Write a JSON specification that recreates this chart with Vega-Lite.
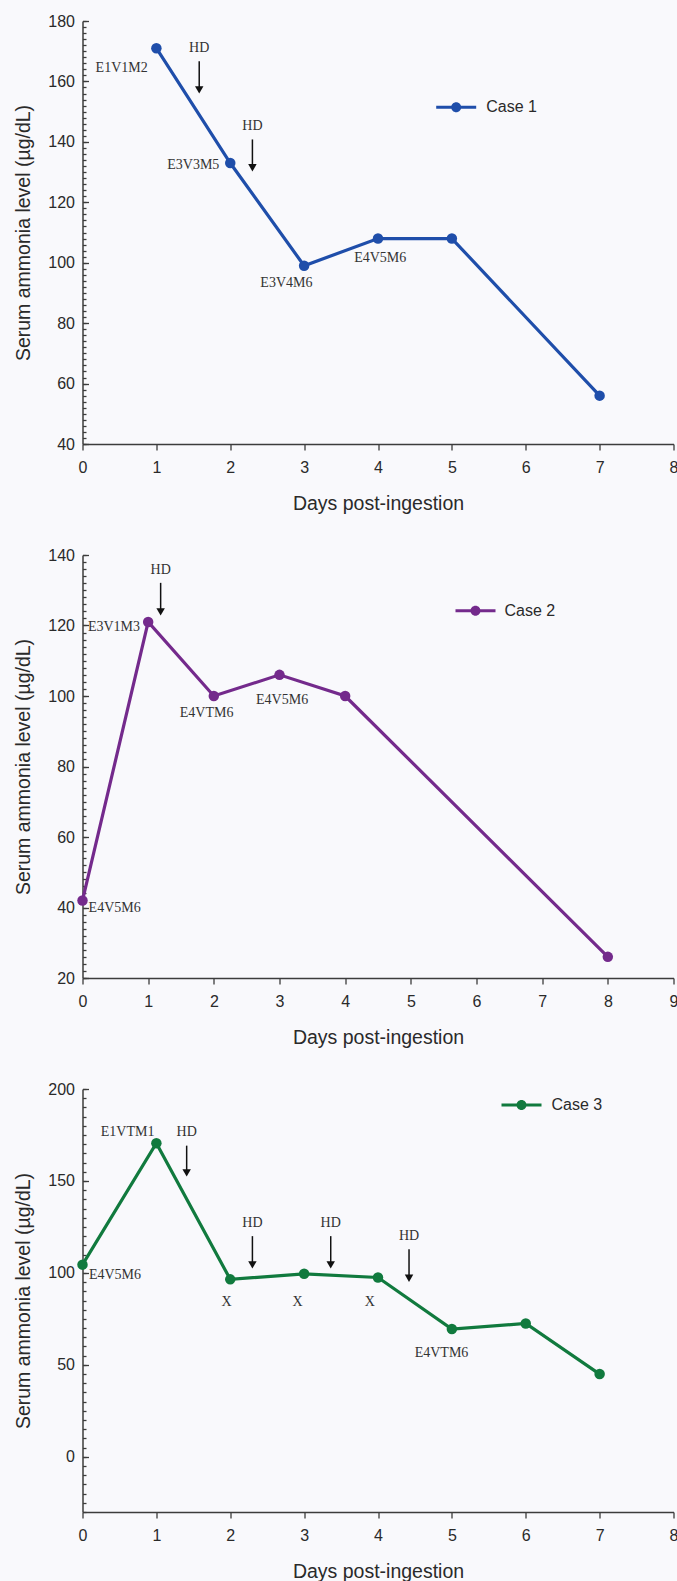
{
  "$schema": "https://vega.github.io/schema/vega-lite/v6.json",
  "background": "#f9f9fc",
  "autosize": {"type": "pad"},
  "padding": {"left": 13.5, "top": 13, "right": 0, "bottom": 0},
  "spacing": 111,
  "bounds": "flush",
  "resolve": {"scale": {"color": "independent"}, "legend": {"color": "independent"}},
  "datasets": {
    "c1": [
      {"day": 1, "ammonia": 171, "case": "Case 1"},
      {"day": 2, "ammonia": 133, "case": "Case 1"},
      {"day": 3, "ammonia": 99, "case": "Case 1"},
      {"day": 4, "ammonia": 108, "case": "Case 1"},
      {"day": 5, "ammonia": 108, "case": "Case 1"},
      {"day": 7, "ammonia": 56, "case": "Case 1"}
    ],
    "a1": [
      {"day": 0.53, "ammonia": 164.3, "label": "E1V1M2"},
      {"day": 1.58, "ammonia": 171, "label": "HD"},
      {"day": 2.3, "ammonia": 145.1, "label": "HD"},
      {"day": 1.5, "ammonia": 132.2, "label": "E3V3M5"},
      {"day": 2.76, "ammonia": 93.2, "label": "E3V4M6"},
      {"day": 4.03, "ammonia": 101.6, "label": "E4V5M6"}
    ],
    "r1": [
      {"day": 1.58, "top": 166.7, "tip": 156},
      {"day": 2.3, "top": 140.8, "tip": 130.2}
    ],
    "c2": [
      {"day": 0, "ammonia": 42, "case": "Case 2"},
      {"day": 1, "ammonia": 121, "case": "Case 2"},
      {"day": 2, "ammonia": 100, "case": "Case 2"},
      {"day": 3, "ammonia": 106, "case": "Case 2"},
      {"day": 4, "ammonia": 100, "case": "Case 2"},
      {"day": 8, "ammonia": 26, "case": "Case 2"}
    ],
    "a2": [
      {"day": 1.19, "ammonia": 135.8, "label": "HD"},
      {"day": 0.48, "ammonia": 119.7, "label": "E3V1M3"},
      {"day": 1.89, "ammonia": 95.3, "label": "E4VTM6"},
      {"day": 3.04, "ammonia": 99.0, "label": "E4V5M6"},
      {"day": 0.49, "ammonia": 40.0, "label": "E4V5M6"}
    ],
    "r2": [
      {"day": 1.19, "top": 132.1, "tip": 122.8}
    ],
    "c3": [
      {"day": 0, "ammonia": 104.5, "case": "Case 3"},
      {"day": 1, "ammonia": 170.5, "case": "Case 3"},
      {"day": 2, "ammonia": 96.5, "case": "Case 3"},
      {"day": 3, "ammonia": 99.5, "case": "Case 3"},
      {"day": 4, "ammonia": 97.5, "case": "Case 3"},
      {"day": 5, "ammonia": 69.5, "case": "Case 3"},
      {"day": 6, "ammonia": 72.5, "case": "Case 3"},
      {"day": 7, "ammonia": 45, "case": "Case 3"}
    ],
    "a3": [
      {"day": 0.61, "ammonia": 176.6, "label": "E1VTM1"},
      {"day": 1.41, "ammonia": 176.6, "label": "HD"},
      {"day": 2.3, "ammonia": 126.9, "label": "HD"},
      {"day": 3.36, "ammonia": 126.9, "label": "HD"},
      {"day": 4.42, "ammonia": 120.0, "label": "HD"},
      {"day": 1.95, "ammonia": 84.4, "label": "X"},
      {"day": 2.91, "ammonia": 84.4, "label": "X"},
      {"day": 3.89, "ammonia": 84.4, "label": "X"},
      {"day": 0.44, "ammonia": 98.8, "label": "E4V5M6"},
      {"day": 4.86, "ammonia": 56.2, "label": "E4VTM6"}
    ],
    "r3": [
      {"day": 1.41, "top": 169.2, "tip": 152.4},
      {"day": 2.3, "top": 120, "tip": 102.4},
      {"day": 3.36, "top": 120, "tip": 102.4},
      {"day": 4.42, "top": 112.9, "tip": 95.1}
    ]
  },
  "vconcat": [
    {
      "width": 591, "height": 423,
      "resolve": {"axis": {"y": "independent"}},
      "layer": [
        {
          "data": {"name": "c1"},
          "mark": {"type": "line", "strokeWidth": 3.2, "color": "#1f4eaa"},
          "encoding": {
            "x": {"field": "day", "type": "quantitative", "scale": {"domain": [0, 8], "nice": false, "zero": false}, "axis": {"values": [0, 1, 2, 3, 4, 5, 6, 7, 8], "format": "d", "title": "Days post-ingestion"}},
            "y": {"field": "ammonia", "type": "quantitative", "scale": {"domain": [40, 180], "nice": false, "zero": false}, "axis": {"values": [40, 60, 80, 100, 120, 140, 160, 180], "format": "d", "title": "Serum ammonia level (µg/dL)"}}
          }
        },
        {
          "data": {"name": "c1"},
          "mark": {"type": "point", "filled": true, "size": 110, "opacity": 1},
          "encoding": {
            "x": {"field": "day", "type": "quantitative", "scale": {"domain": [0, 8], "nice": false, "zero": false}},
            "y": {"field": "ammonia", "type": "quantitative", "scale": {"domain": [40, 180], "nice": false, "zero": false}, "axis": null},
            "color": {"field": "case", "type": "nominal", "scale": {"domain": ["Case 1"], "range": ["#1f4eaa"]},
              "legend": {"orient": "none", "legendX": 353.7, "legendY": 66.3, "title": null, "padding": 0,
                "symbolType": "M-1,-0.075H1V0.075H-1Z M-0.25,0A0.25,0.25 0 1,1 0.25,0A0.25,0.25 0 1,1 -0.25,0Z",
                "symbolSize": 1600, "symbolStrokeWidth": 0, "labelFontSize": 16, "labelFont": "Liberation Sans", "labelColor": "#2a2a2a", "labelOffset": 10}}
          }
        },
        {
          "data": {"name": "a1"},
          "mark": {"type": "text", "font": "Liberation Serif", "fontSize": 14, "color": "#333333", "align": "center", "baseline": "middle"},
          "encoding": {
            "x": {"field": "day", "type": "quantitative", "scale": {"domain": [0, 8], "nice": false, "zero": false}},
            "y": {"field": "ammonia", "type": "quantitative", "scale": {"domain": [40, 180], "nice": false, "zero": false}, "axis": null},
            "text": {"field": "label", "type": "nominal"}
          }
        },
        {
          "data": {"name": "r1"},
          "mark": {"type": "rule", "color": "#111111", "strokeWidth": 1.5, "y2Offset": -4},
          "encoding": {
            "x": {"field": "day", "type": "quantitative", "scale": {"domain": [0, 8], "nice": false, "zero": false}},
            "y": {"field": "top", "type": "quantitative", "scale": {"domain": [40, 180], "nice": false, "zero": false},
              "axis": {"orient": "left", "title": null, "labels": false, "domain": false, "tickSize": -3.5,
                "values": [40,42,44,46,48,50,52,54,56,58,60,62,64,66,68,70,72,74,76,78,80,82,84,86,88,90,92,94,96,98,100,102,104,106,108,110,112,114,116,118,120,122,124,126,128,130,132,134,136,138,140,142,144,146,148,150,152,154,156,158,160,162,164,166,168,170,172,174,176,178,180]}},
            "y2": {"field": "tip"}
          }
        },
        {
          "data": {"name": "r1"},
          "mark": {"type": "point", "shape": "triangle-down", "filled": true, "size": 72, "color": "#111111", "opacity": 1, "yOffset": -3.7},
          "encoding": {
            "x": {"field": "day", "type": "quantitative", "scale": {"domain": [0, 8], "nice": false, "zero": false}},
            "y": {"field": "tip", "type": "quantitative", "scale": {"domain": [40, 180], "nice": false, "zero": false}, "axis": null}
          }
        }
      ]
    },
    {
      "width": 591, "height": 423,
      "resolve": {"axis": {"y": "independent"}},
      "layer": [
        {
          "data": {"name": "c2"},
          "mark": {"type": "line", "strokeWidth": 3.2, "color": "#742a8c"},
          "encoding": {
            "x": {"field": "day", "type": "quantitative", "scale": {"domain": [0, 9], "nice": false, "zero": false}, "axis": {"values": [0, 1, 2, 3, 4, 5, 6, 7, 8, 9], "format": "d", "title": "Days post-ingestion"}},
            "y": {"field": "ammonia", "type": "quantitative", "scale": {"domain": [20, 140], "nice": false, "zero": false}, "axis": {"values": [20, 40, 60, 80, 100, 120, 140], "format": "d", "title": "Serum ammonia level (µg/dL)"}}
          }
        },
        {
          "data": {"name": "c2"},
          "mark": {"type": "point", "filled": true, "size": 110, "opacity": 1},
          "encoding": {
            "x": {"field": "day", "type": "quantitative", "scale": {"domain": [0, 9], "nice": false, "zero": false}},
            "y": {"field": "ammonia", "type": "quantitative", "scale": {"domain": [20, 140], "nice": false, "zero": false}, "axis": null},
            "color": {"field": "case", "type": "nominal", "scale": {"domain": ["Case 2"], "range": ["#742a8c"]},
              "legend": {"orient": "none", "legendX": 373, "legendY": 35.7, "title": null, "padding": 0,
                "symbolType": "M-1,-0.075H1V0.075H-1Z M-0.25,0A0.25,0.25 0 1,1 0.25,0A0.25,0.25 0 1,1 -0.25,0Z",
                "symbolSize": 1600, "symbolStrokeWidth": 0, "labelFontSize": 16, "labelFont": "Liberation Sans", "labelColor": "#2a2a2a", "labelOffset": 9}}
          }
        },
        {
          "data": {"name": "a2"},
          "mark": {"type": "text", "font": "Liberation Serif", "fontSize": 14, "color": "#333333", "align": "center", "baseline": "middle"},
          "encoding": {
            "x": {"field": "day", "type": "quantitative", "scale": {"domain": [0, 9], "nice": false, "zero": false}},
            "y": {"field": "ammonia", "type": "quantitative", "scale": {"domain": [20, 140], "nice": false, "zero": false}, "axis": null},
            "text": {"field": "label", "type": "nominal"}
          }
        },
        {
          "data": {"name": "r2"},
          "mark": {"type": "rule", "color": "#111111", "strokeWidth": 1.5, "y2Offset": -4},
          "encoding": {
            "x": {"field": "day", "type": "quantitative", "scale": {"domain": [0, 9], "nice": false, "zero": false}},
            "y": {"field": "top", "type": "quantitative", "scale": {"domain": [20, 140], "nice": false, "zero": false},
              "axis": {"orient": "left", "title": null, "labels": false, "domain": false, "tickSize": -3.5,
                "values": [20,22,24,26,28,30,32,34,36,38,40,42,44,46,48,50,52,54,56,58,60,62,64,66,68,70,72,74,76,78,80,82,84,86,88,90,92,94,96,98,100,102,104,106,108,110,112,114,116,118,120,122,124,126,128,130,132,134,136,138,140]}},
            "y2": {"field": "tip"}
          }
        },
        {
          "data": {"name": "r2"},
          "mark": {"type": "point", "shape": "triangle-down", "filled": true, "size": 72, "color": "#111111", "opacity": 1, "yOffset": -3.7},
          "encoding": {
            "x": {"field": "day", "type": "quantitative", "scale": {"domain": [0, 9], "nice": false, "zero": false}},
            "y": {"field": "tip", "type": "quantitative", "scale": {"domain": [20, 140], "nice": false, "zero": false}, "axis": null}
          }
        }
      ]
    },
    {
      "width": 591, "height": 423,
      "resolve": {"axis": {"y": "independent"}},
      "layer": [
        {
          "data": {"name": "c3"},
          "mark": {"type": "line", "strokeWidth": 3.2, "color": "#117a3e"},
          "encoding": {
            "x": {"field": "day", "type": "quantitative", "scale": {"domain": [0, 8], "nice": false, "zero": false}, "axis": {"values": [0, 1, 2, 3, 4, 5, 6, 7, 8], "format": "d", "title": "Days post-ingestion"}},
            "y": {"field": "ammonia", "type": "quantitative", "scale": {"domain": [-30, 200], "nice": false, "zero": false}, "axis": {"values": [0, 50, 100, 150, 200], "format": "d", "title": "Serum ammonia level (µg/dL)"}}
          }
        },
        {
          "data": {"name": "c3"},
          "mark": {"type": "point", "filled": true, "size": 110, "opacity": 1},
          "encoding": {
            "x": {"field": "day", "type": "quantitative", "scale": {"domain": [0, 8], "nice": false, "zero": false}},
            "y": {"field": "ammonia", "type": "quantitative", "scale": {"domain": [-30, 200], "nice": false, "zero": false}, "axis": null},
            "color": {"field": "case", "type": "nominal", "scale": {"domain": ["Case 3"], "range": ["#117a3e"]},
              "legend": {"orient": "none", "legendX": 419, "legendY": -4.1, "title": null, "padding": 0,
                "symbolType": "M-1,-0.075H1V0.075H-1Z M-0.25,0A0.25,0.25 0 1,1 0.25,0A0.25,0.25 0 1,1 -0.25,0Z",
                "symbolSize": 1600, "symbolStrokeWidth": 0, "labelFontSize": 16, "labelFont": "Liberation Sans", "labelColor": "#2a2a2a", "labelOffset": 10}}
          }
        },
        {
          "data": {"name": "a3"},
          "mark": {"type": "text", "font": "Liberation Serif", "fontSize": 14, "color": "#333333", "align": "center", "baseline": "middle"},
          "encoding": {
            "x": {"field": "day", "type": "quantitative", "scale": {"domain": [0, 8], "nice": false, "zero": false}},
            "y": {"field": "ammonia", "type": "quantitative", "scale": {"domain": [-30, 200], "nice": false, "zero": false}, "axis": null},
            "text": {"field": "label", "type": "nominal"}
          }
        },
        {
          "data": {"name": "r3"},
          "mark": {"type": "rule", "color": "#111111", "strokeWidth": 1.5, "y2Offset": -4},
          "encoding": {
            "x": {"field": "day", "type": "quantitative", "scale": {"domain": [0, 8], "nice": false, "zero": false}},
            "y": {"field": "top", "type": "quantitative", "scale": {"domain": [-30, 200], "nice": false, "zero": false},
              "axis": {"orient": "left", "title": null, "labels": false, "domain": false, "tickSize": -3.5,
                "values": [-30,-25,-20,-15,-10,-5,0,5,10,15,20,25,30,35,40,45,50,55,60,65,70,75,80,85,90,95,100,105,110,115,120,125,130,135,140,145,150,155,160,165,170,175,180,185,190,195,200]}},
            "y2": {"field": "tip"}
          }
        },
        {
          "data": {"name": "r3"},
          "mark": {"type": "point", "shape": "triangle-down", "filled": true, "size": 72, "color": "#111111", "opacity": 1, "yOffset": -3.7},
          "encoding": {
            "x": {"field": "day", "type": "quantitative", "scale": {"domain": [0, 8], "nice": false, "zero": false}},
            "y": {"field": "tip", "type": "quantitative", "scale": {"domain": [-30, 200], "nice": false, "zero": false}, "axis": null}
          }
        }
      ]
    }
  ],
  "config": {
    "view": {"stroke": null},
    "font": "Liberation Sans",
    "axis": {
      "grid": false,
      "domainColor": "#3c3c3c", "domainWidth": 1.5,
      "tickColor": "#3c3c3c", "tickWidth": 1.3,
      "labelFont": "Liberation Sans", "labelFontSize": 16, "labelColor": "#2a2a2a",
      "titleFont": "Liberation Sans", "titleFontSize": 19.5, "titleFontWeight": "normal", "titleColor": "#2a2a2a"
    },
    "axisX": {"tickSize": 6, "labelPadding": 9, "titlePadding": 19, "labelFlush": false, "labelOverlap": false},
    "axisY": {"tickSize": -6, "labelPadding": 14, "titlePadding": 14, "labelOverlap": false}
  }
}
